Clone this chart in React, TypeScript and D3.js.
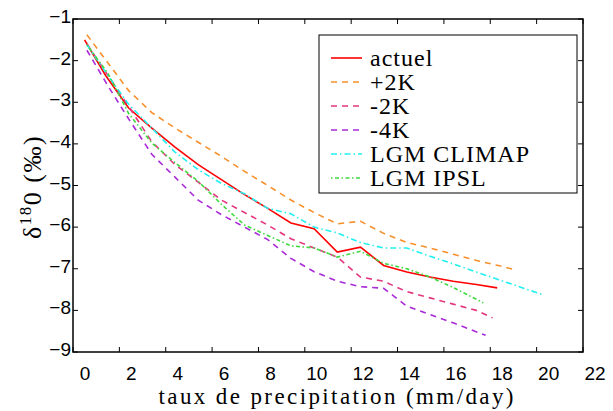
import React, { useEffect, useRef } from 'react'
import * as d3 from 'd3'

// taux de precipitation (mm/day) per bin, and d18O per experiment
const actuelX = [0.5, 1.4, 2.4, 3.4, 4.4, 5.4, 6.4, 7.4, 8.4, 9.4, 10.4, 11.4, 12.4, 13.4, 14.4, 15.4, 16.4, 17.4, 18.3]
const actuelY = [-1.5, -2.35, -3.14, -3.62, -4.08, -4.5, -4.86, -5.22, -5.55, -5.9, -6.04, -6.6, -6.48, -6.92, -7.08, -7.2, -7.3, -7.38, -7.46]

const plus2X = [0.6, 1.5, 2.4, 3.4, 4.4, 5.4, 6.4, 7.4, 8.4, 9.4, 10.4, 11.4, 12.4, 13.4, 14.4, 15.4, 16.4, 17.4, 18.4, 19.1]
const plus2Y = [-1.38, -2.05, -2.72, -3.25, -3.62, -3.96, -4.3, -4.66, -5.0, -5.35, -5.65, -5.92, -5.86, -6.15, -6.37, -6.5, -6.65, -6.8, -6.93, -7.03]

const minus2X = [0.6, 1.5, 2.4, 3.4, 4.4, 5.4, 6.4, 7.4, 8.4, 9.4, 10.4, 11.4, 12.4, 13.4, 14.4, 15.4, 16.4, 17.4, 18.1]
const minus2Y = [-1.6, -2.35, -3.1, -3.95, -4.5, -4.92, -5.35, -5.65, -5.95, -6.28, -6.5, -6.72, -7.2, -7.3, -7.55, -7.7, -7.85, -8.0, -8.18]

const minus4X = [0.6, 1.5, 2.4, 3.4, 4.4, 5.4, 6.4, 7.4, 8.4, 9.4, 10.4, 11.4, 12.4, 13.4, 14.4, 15.4, 16.4, 17.8]
const minus4Y = [-1.75, -2.6, -3.4, -4.25, -4.8, -5.35, -5.7, -6.0, -6.3, -6.75, -7.07, -7.3, -7.43, -7.47, -7.9, -8.1, -8.3, -8.6]

const climapX = [0.6, 1.5, 2.4, 3.4, 4.4, 5.4, 6.4, 7.4, 8.4, 9.4, 10.4, 11.4, 12.4, 13.4, 14.4, 15.4, 16.4, 17.4, 18.4, 19.4, 20.3]
const climapY = [-1.62, -2.35, -3.05, -3.62, -4.2, -4.62, -4.95, -5.2, -5.55, -5.68, -6.0, -6.14, -6.37, -6.5, -6.5, -6.7, -6.88, -7.08, -7.27, -7.46, -7.63]

const ipslX = [0.6, 1.5, 2.4, 3.4, 4.4, 5.4, 6.4, 7.4, 8.4, 9.4, 10.4, 11.4, 12.4, 13.4, 14.4, 15.4, 16.4, 17.7]
const ipslY = [-1.62, -2.3, -3.27, -3.98, -4.45, -4.9, -5.45, -5.95, -6.2, -6.45, -6.5, -6.72, -6.58, -6.87, -7.0, -7.2, -7.45, -7.82]

const legendLabels = ['actuel', '+2K', '-2K', '-4K', 'LGM CLIMAP', 'LGM IPSL']
const xTicks = [0, 2, 4, 6, 8, 10, 12, 14, 16, 18, 20, 22]
const yTicks = [-1, -2, -3, -4, -5, -6, -7, -8, -9]

const styles = [
  { color: '#ff0000', dash: null },
  { color: '#f7902c', dash: '6,5' },
  { color: '#e3367f', dash: '6,5' },
  { color: '#a92ad8', dash: '6,5' },
  { color: '#22f0f0', dash: '6,3,1.5,3' },
  { color: '#3fd83f', dash: '1.5,2.5,4,2.5' }
]

const SERIF = "'Times New Roman', 'Liberation Serif', 'DejaVu Serif', 'Noto Serif', Times, serif"
const SANS = "'Liberation Sans', Arial, sans-serif"

export default function App() {
  const ref = useRef<SVGSVGElement>(null)

  useEffect(() => {
    const width = 613
    const height = 411
    const margin = { top: 19, left: 73, right: 30, bottom: 59 }

    const svg = d3.select(ref.current)
    svg.selectAll('*').remove()

    const x = d3.scaleLinear().domain([0, 22]).range([margin.left, width - margin.right])
    const y = d3.scaleLinear().domain([-9, -1]).range([height - margin.bottom, margin.top])

    const series = [
      [actuelX, actuelY], [plus2X, plus2Y], [minus2X, minus2Y],
      [minus4X, minus4Y], [climapX, climapY], [ipslX, ipslY]
    ]

    // lines
    const line = d3.line<[number, number]>().x(d => x(d[0])).y(d => y(d[1]))
    series.forEach((s, i) => {
      const pts = s[0].map((v, j) => [v, s[1][j]] as [number, number])
      svg.append('path')
        .attr('d', line(pts))
        .attr('fill', 'none')
        .attr('stroke', styles[i].color)
        .attr('stroke-width', 1.6)
        .attr('stroke-dasharray', styles[i].dash)
    })

    // box
    const x0 = x(0), x1 = x(22), y0 = y(-9), y1 = y(-1)
    svg.append('rect')
      .attr('x', x0).attr('y', y1)
      .attr('width', x1 - x0).attr('height', y0 - y1)
      .attr('fill', 'none').attr('stroke', '#000').attr('stroke-width', 1.5)

    // ticks inward, all four sides
    const tickLen = 5
    xTicks.forEach(t => {
      svg.append('line').attr('x1', x(t)).attr('x2', x(t)).attr('y1', y0).attr('y2', y0 - tickLen).attr('stroke', '#000')
      svg.append('line').attr('x1', x(t)).attr('x2', x(t)).attr('y1', y1).attr('y2', y1 + tickLen).attr('stroke', '#000')
      svg.append('text')
        .attr('x', x(t) + 12).attr('y', 380)
        .attr('text-anchor', 'middle')
        .style('font-family', SANS)
        .style('font-size', '19px')
        .text(t)
    })
    yTicks.forEach(t => {
      svg.append('line').attr('x1', x0).attr('x2', x0 + tickLen).attr('y1', y(t)).attr('y2', y(t)).attr('stroke', '#000')
      svg.append('line').attr('x1', x1).attr('x2', x1 - tickLen).attr('y1', y(t)).attr('y2', y(t)).attr('stroke', '#000')
      svg.append('text')
        .attr('x', 71).attr('y', y(t) + 4)
        .attr('text-anchor', 'end')
        .style('font-family', SANS)
        .style('font-size', '19px')
        .text('\u2212' + Math.abs(t))
    })

    // axis titles
    svg.append('text')
      .attr('x', 336).attr('y', 404)
      .attr('text-anchor', 'middle')
      .attr('textLength', 355)
      .attr('lengthAdjust', 'spacing')
      .style('font-family', SERIF)
      .style('font-size', '23px')
      .text('taux de precipitation (mm/day)')

    const yt = svg.append('text')
      .attr('transform', 'translate(41,187) rotate(-90)')
      .attr('text-anchor', 'middle')
      .style('font-family', SERIF)
      .style('font-size', '26px')
      .style('letter-spacing', '1.5px')
    yt.append('tspan').text('\u03b4')
    yt.append('tspan').style('font-size', '17px').attr('dy', -10).text('18')
    yt.append('tspan').attr('dy', 10).text('0 (\u2030)')

    // legend
    svg.append('rect')
      .attr('x', 319).attr('y', 35).attr('width', 258).attr('height', 158)
      .attr('fill', '#fff').attr('stroke', '#000').attr('stroke-width', 1)
    legendLabels.forEach((name, i) => {
      const ly = 58 + i * 24
      svg.append('line')
        .attr('x1', 331).attr('x2', 362).attr('y1', ly).attr('y2', ly)
        .attr('stroke', styles[i].color).attr('stroke-width', 1.6)
        .attr('stroke-dasharray', styles[i].dash)
      svg.append('text')
        .attr('x', 370).attr('y', ly + 8)
        .style('font-family', SERIF)
        .style('font-size', '24px')
        .style('letter-spacing', '1px')
        .text(name)
    })
  }, [])

  return (
    <svg ref={ref} width={613} height={411}
      style={{ position: 'absolute', left: 0, top: 0, background: '#fff' }} />
  )
}
